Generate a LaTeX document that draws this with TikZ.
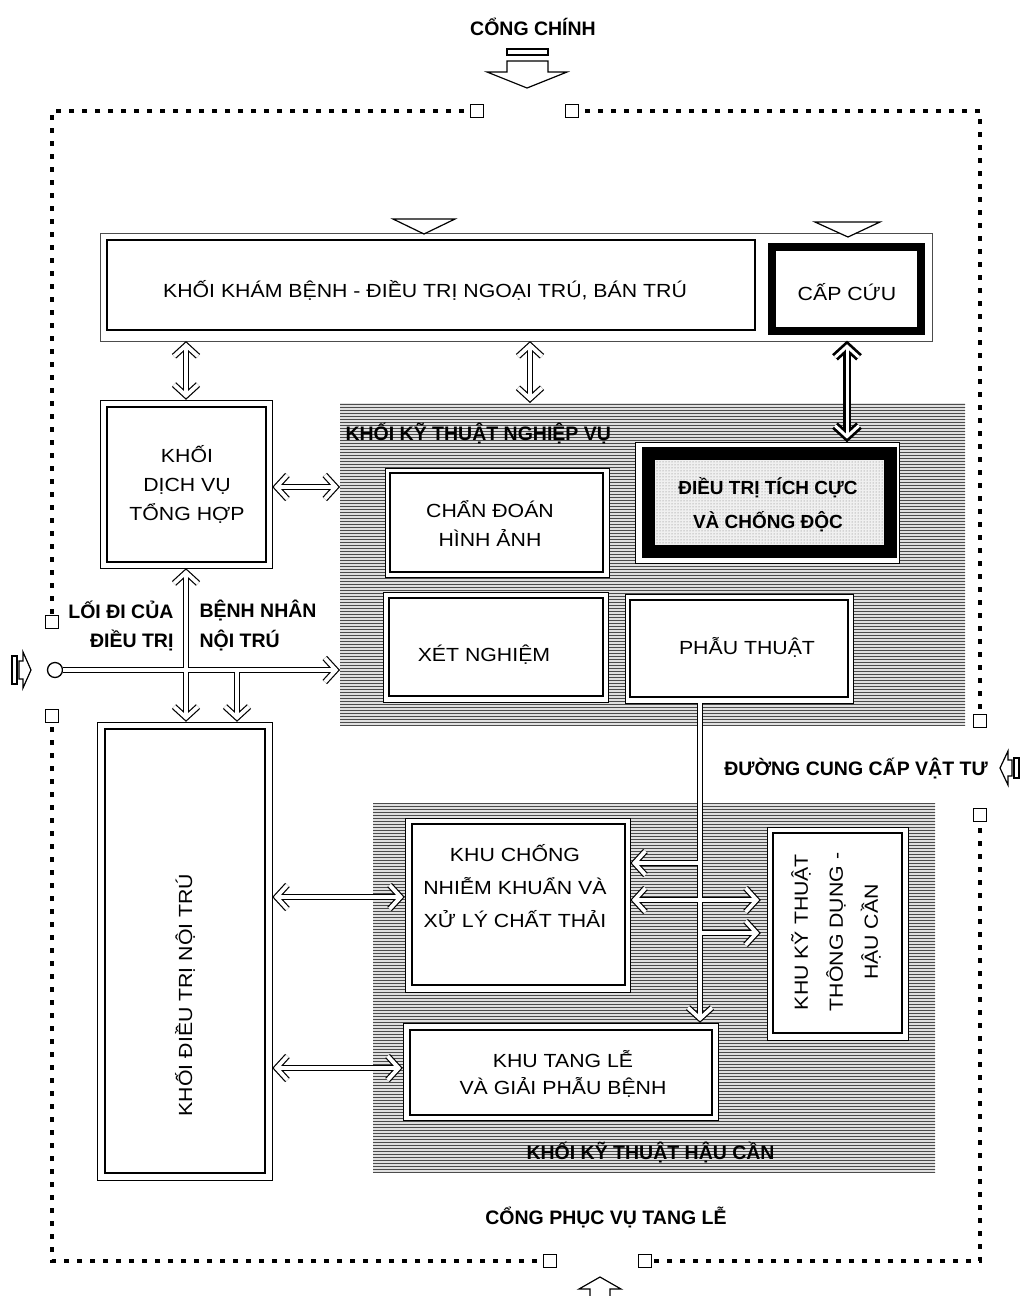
\documentclass[tikz,border=0pt]{standalone}
\usepackage{fontspec}
\setmainfont{Liberation Sans}
\newfontfamily\gfont[FakeStretch=1.12]{Liberation Sans}
\usetikzlibrary{patterns,fit,calc}
\newcommand\chev[2]{\draw[pass, line join=miter, shift={#1}, rotate=#2] (-11,-12) -- (0,0) -- (-11,12);}
\begin{document}
\begin{tikzpicture}[x=1pt,y=-1pt,
  lbl/.style={font=\gfont\fontsize{19}{29}\selectfont, align=center},
  blbl/.style={font=\bfseries\fontsize{19.5}{31}\selectfont, align=center},
  inbox/.style={draw, line width=2pt, inner sep=0pt},
  outbox/.style={draw, line width=0.8pt, fill=white, inner sep=0pt},
  hatch/.style={inner sep=0pt, preaction={fill=black!12}, pattern=horizontal lines, pattern color=black!70},
  fence/.style={line width=3.5pt, dash pattern=on 5pt off 8pt},
  gsq/.style={draw, line width=1.3pt, fill=white, minimum size=13pt, inner sep=0pt},
  hollow/.style={draw, line width=1.2pt, fill=white, line join=miter}
]
\useasboundingbox (0,0) rectangle (1020,1296);
\fill[white] (0,0) rectangle (1020,1296);

% ---------- fence and gates ----------
\coordinate (fTL) at (52,111);
\coordinate (fTR) at (980,111);
\coordinate (fBR) at (980,1261);
\coordinate (fBL) at (52,1261);
\draw[fence] (477,111) -- (fTL) -- (52,622);
\draw[fence] (572,111) -- (fTR) -- (980,721);
\draw[fence] (980,815) -- (fBR) -- (645,1261);
\draw[fence] (550,1261) -- (fBL) -- (52,716);
\node[gsq] (gT1) at (477,111) {};
\node[gsq] (gT2) at (572,111) {};
\node[gsq] (gR1) at (980,721) {};
\node[gsq] (gR2) at (980,815) {};
\node[gsq] (gB1) at (550,1261) {};
\node[gsq] (gB2) at (645,1261) {};
\node[gsq] (gL1) at (52,622) {};
\node[gsq] (gL2) at (52,716) {};

\node[blbl] (cong) at (533,27) {CỔNG CHÍNH};
\draw[hollow] (507,49) rectangle (548,55);
\draw[hollow] (507,61) -- (548,61) -- (548,72) -- (567,72) -- (527,88) -- (487,72) -- (507,72) -- cycle;

\node[blbl] (tangle) at (606,1217) {CỔNG PHỤC VỤ TANG LỄ};
\draw[hollow] (600,1277) -- (621,1289) -- (610,1289) -- (610,1302) -- (590,1302) -- (590,1289) -- (579,1289) -- cycle;

\node[blbl] (vattu) at (856,768) {ĐƯỜNG CUNG CẤP VẬT TƯ};
\draw[hollow] (1000,768) -- (1008,751) -- (1008,760) -- (1012,760) -- (1012,776) -- (1008,776) -- (1008,785) -- cycle;
\draw[hollow] (1014,758) rectangle (1019,778);

\draw[hollow] (12,656) rectangle (17,684);
\draw[hollow] (31,670) -- (23,652) -- (23,661) -- (19,661) -- (19,679) -- (23,679) -- (23,688) -- cycle;

% ---------- top row ----------
\node[draw=black!70, line width=0.6pt, inner sep=0pt, fit={(100,233) (932,341)}] (kbF) {};
\node[inbox, fill=white, fit={(107,240) (755,330)}] (kb) {};
\node[lbl] at (425,290) {KHỐI KHÁM BỆNH - ĐIỀU TRỊ NGOẠI TRÚ, BÁN TRÚ};
\node[draw, line width=8pt, fill=white, inner sep=0pt, fit={(772,247) (921,331)}] (cc) {};
\node[lbl] at (847,292) {CẤP CỨU};
\draw[hollow] (393,219) -- (455,219) -- (424,234) -- cycle;
\draw[hollow] (815,222) -- (880,222) -- (848,237) -- cycle;

% ---------- dich vu ----------
\node[outbox, fit={(100,400) (272,568)}] (dvO) {};
\node[inbox, fit={(107,407) (266,562)}] (dv) {};
\node[lbl] at (187,484) {KHỐI\\DỊCH VỤ\\TỔNG HỢP};

% ---------- khoi ky thuat nghiep vu ----------
\node[hatch, fit={(340,403) (965,725)}] (nv) {};
\node[blbl, anchor=west] (nvT) at (342,433) {KHỐI KỸ THUẬT NGHIỆP VỤ};
\node[outbox, fit={(385,468) (609,577)}] (cdO) {};
\node[inbox, fit={(390,473) (603,572)}] (cd) {};
\node[lbl] at (490,523) {CHẨN ĐOÁN\\HÌNH ẢNH};
\node[outbox, fit={(635,442) (899,563)}] (tcO) {};
\node[draw, line width=13pt, inner sep=0pt, preaction={fill=black!6}, pattern=dots, pattern color=black!55, fit={(648.5,453.5) (890.5,551.5)}] (tc) {};
\node[blbl, font=\bfseries\fontsize{19}{34}\selectfont] at (768,505) {ĐIỀU TRỊ TÍCH CỰC\\VÀ CHỐNG ĐỘC};
\node[outbox, fit={(383,592) (608,702)}] (xnO) {};
\node[inbox, fit={(389,598) (603,696)}] (xn) {};
\node[lbl] at (484,655) {XÉT NGHIỆM};
\node[outbox, fit={(625,594) (853,703)}] (ptO) {};
\node[inbox, fit={(630,600) (848,697)}] (pt) {};
\node[lbl] at (747,647) {PHẪU THUẬT};

% ---------- noi tru ----------
\node[outbox, fit={(97,722) (272,1180)}] (ntO) {};
\node[inbox, fit={(105,729) (265,1173)}] (nt) {};
\node[lbl, rotate=90] at (185,995) {KHỐI ĐIỀU TRỊ NỘI TRÚ};

% ---------- khoi ky thuat hau can ----------
\node[hatch, fit={(373,803) (935,1172)}] (hc) {};
\node[blbl, anchor=west] (hcT) at (523,1152) {KHỐI KỸ THUẬT HẬU CẦN};
\node[outbox, fit={(405,818) (630,992)}] (nkO) {};
\node[inbox, fit={(412,824) (625,985)}] (nk) {};
\node[lbl, font=\gfont\fontsize{19}{33}\selectfont] at (515,886) {KHU CHỐNG\\NHIỄM KHUẨN VÀ\\XỬ LÝ CHẤT THẢI};
\node[outbox, fit={(767,827) (908,1040)}] (ktO) {};
\node[inbox, fit={(773,833) (902,1033)}] (kt) {};
\node[lbl, font=\gfont\fontsize{19}{35}\selectfont, rotate=90] at (836,932) {KHU KỸ THUẬT\\THÔNG DỤNG -\\HẬU CẦN};
\node[outbox, fit={(403,1023) (718,1120)}] (tlO) {};
\node[inbox, fit={(410,1030) (712,1115)}] (tl) {};
\node[lbl, font=\gfont\fontsize{19}{27}\selectfont] at (563,1074) {KHU TANG LỄ\\VÀ GIẢI PHẪU BỆNH};

% ---------- entrance ----------
\node[draw, circle, line width=1.3pt, minimum size=15pt, inner sep=0pt, fill=white] (ent) at (55,670) {};
\node[blbl, anchor=east] at (177,610) {LỐI ĐI CỦA};
\node[blbl, anchor=west] at (196,610) {BỆNH NHÂN};
\node[blbl, anchor=east] at (177,640) {ĐIỀU TRỊ};
\node[blbl, anchor=west] at (196,640) {NỘI TRÚ};

% ---------- connector end points (at node borders, tips set back 4pt) ----------
\coordinate (A1) at ($(186,0 |- kbF.south)+(0,4)$);
\coordinate (A2) at ($(186,0 |- dvO.north)+(0,-4)$);
\coordinate (B1) at ($(530,0 |- kbF.south)+(0,4)$);
\coordinate (B2) at ($(530,0 |- nv.north)+(0,-4)$);
\coordinate (C1) at ($(847,0 |- kbF.south)+(0,5)$);
\coordinate (C2) at ($(847,0 |- tcO.north)+(0,-5)$);
\coordinate (D1) at ($(dvO.east |- 0,487)+(4,0)$);
\coordinate (D2) at ($(nv.west |- 0,487)+(-4,0)$);
\coordinate (E1) at ($(ntO.east |- 0,897)+(4,0)$);
\coordinate (E2) at ($(nkO.west |- 0,897)+(-4,0)$);
\coordinate (F1) at ($(ntO.east |- 0,1068)+(4,0)$);
\coordinate (F2) at ($(tlO.west |- 0,1068)+(-4,0)$);
\coordinate (G1) at (ent.east);
\coordinate (G2) at ($(nv.west |- ent.east)+(-4,0)$);
\coordinate (H1) at ($(186,0 |- dvO.south)+(0,4)$);
\coordinate (H2) at ($(186,0 |- ntO.north)+(0,-4)$);
\coordinate (I1) at (237,0 |- ent.east);
\coordinate (I2) at ($(237,0 |- ntO.north)+(0,-4)$);
\coordinate (J1) at (700,0 |- ptO.south);
\coordinate (J2) at ($(700,0 |- tlO.north)+(0,-4)$);
\coordinate (K1) at (700,863);
\coordinate (K2) at ($(nkO.east |- K1)+(4,0)$);
\coordinate (L1) at ($(nkO.east |- 0,900)+(4,0)$);
\coordinate (L2) at ($(ktO.west |- 0,900)+(-10,0)$);
\coordinate (M1) at (700,933);
\coordinate (M2) at ($(ktO.west |- M1)+(-10,0)$);

% ---------- double-line connectors: outline pass, then white core pass ----------
\newcommand\thinconns{%
  \draw[pass] (A1) -- (A2); \chev{(A1)}{90} \chev{(A2)}{-90}
  \draw[pass] (B1) -- (B2); \chev{(B1)}{90} \chev{(B2)}{-90}
  \draw[pass] (D1) -- (D2); \chev{(D1)}{180} \chev{(D2)}{0}
  \draw[pass] (E1) -- (E2); \chev{(E1)}{180} \chev{(E2)}{0}
  \draw[pass] (F1) -- (F2); \chev{(F1)}{180} \chev{(F2)}{0}
  \draw[pass] (G1) -- (G2); \chev{(G2)}{0}
  \draw[pass] (H1) -- (H2); \chev{(H1)}{90} \chev{(H2)}{-90}
  \draw[pass] (I1) -- (I2); \chev{(I2)}{-90}
  \draw[pass] (J1) -- (J2); \chev{(J2)}{-90}
  \draw[pass] (K1) -- (K2); \chev{(K2)}{180}
  \draw[pass] (L1) -- (L2); \chev{(L1)}{180} \chev{(L2)}{0}
  \draw[pass] (M1) -- (M2); \chev{(M2)}{0}
}
\tikzset{pass/.style={draw=black, line width=6.2pt}}
\thinconns
\tikzset{pass/.style={draw=white, line width=3.8pt}}
\thinconns

\newcommand\thickconn{\draw[pass] (C1) -- (C2); \chev{(C1)}{90} \chev{(C2)}{-90}}
\tikzset{pass/.style={draw=black, line width=8.4pt}}
\thickconn
\tikzset{pass/.style={draw=white, line width=3pt}}
\thickconn
\end{tikzpicture}
\end{document}
